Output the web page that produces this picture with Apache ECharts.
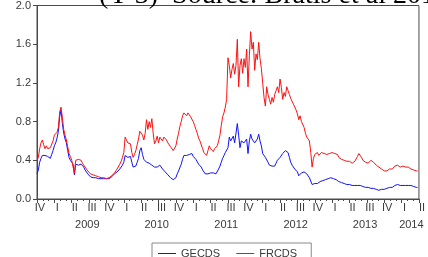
<!DOCTYPE html>
<html>
<head>
<meta charset="UTF-8">
<title>GECDS / FRCDS</title>
<script src="https://cdn.jsdelivr.net/npm/echarts@6/dist/echarts.min.js"></script>
<style>
  html, body { margin: 0; padding: 0; background: #fff; }
  #chart { width: 428px; height: 257px; }
</style>
</head>
<body>
<div id="chart"></div>
<script>
// weekly observations, first one at start of 2008 Q4
const startYear = 2008.75;
const weeksPerYear = 52;

const quarterNames = ['I', 'II', 'III', 'IV'];
const yearNames = ['2009', '2010', '2011', '2012', '2013', '2014'];

const gecds = [
  0.26, 0.30, 0.38, 0.42, 0.45, 0.47, 0.45, 0.46, 0.44, 0.43,
  0.42, 0.46, 0.50, 0.55, 0.58, 0.63, 0.70, 0.85, 0.92, 0.78,
  0.68, 0.62, 0.58, 0.50, 0.43, 0.40, 0.38, 0.36, 0.25, 0.36,
  0.37, 0.35, 0.35, 0.36, 0.34, 0.33, 0.30, 0.28, 0.26, 0.24,
  0.23, 0.23, 0.22, 0.22, 0.22, 0.21, 0.21, 0.21, 0.21, 0.21,
  0.21, 0.20, 0.21, 0.21, 0.21, 0.22, 0.23, 0.25, 0.26, 0.27,
  0.28, 0.29, 0.31, 0.33, 0.35, 0.38, 0.45, 0.44, 0.43, 0.45,
  0.44, 0.38, 0.33, 0.34, 0.34, 0.38, 0.42, 0.50, 0.53, 0.46,
  0.41, 0.40, 0.38, 0.40, 0.37, 0.36, 0.35, 0.34, 0.33, 0.31,
  0.33, 0.34, 0.35, 0.33, 0.31, 0.29, 0.28, 0.26, 0.25, 0.24,
  0.22, 0.21, 0.20, 0.19, 0.22, 0.26, 0.29, 0.31, 0.36, 0.41,
  0.45, 0.46, 0.45, 0.47, 0.46, 0.47, 0.47, 0.44, 0.43, 0.41,
  0.39, 0.36, 0.34, 0.33, 0.30, 0.28, 0.26, 0.24, 0.26, 0.28,
  0.27, 0.26, 0.27, 0.26, 0.26, 0.28, 0.31, 0.34, 0.38, 0.42,
  0.45, 0.48, 0.50, 0.53, 0.64, 0.60, 0.62, 0.65, 0.58, 0.60,
  0.78, 0.66, 0.53, 0.60, 0.62, 0.58, 0.57, 0.62, 0.47, 0.60,
  0.67, 0.62, 0.64, 0.58, 0.60, 0.62, 0.67, 0.60, 0.55, 0.47,
  0.45, 0.43, 0.42, 0.38, 0.35, 0.33, 0.34, 0.32, 0.34, 0.37,
  0.40, 0.41, 0.43, 0.45, 0.47, 0.48, 0.50, 0.52, 0.48, 0.43,
  0.38, 0.35, 0.33, 0.31, 0.29, 0.28, 0.24, 0.26, 0.27, 0.27,
  0.28, 0.27, 0.26, 0.24, 0.22, 0.20, 0.15, 0.17, 0.16, 0.17,
  0.16, 0.17, 0.18, 0.19, 0.19, 0.19, 0.20, 0.21, 0.21, 0.22,
  0.22, 0.21, 0.21, 0.20, 0.20, 0.19, 0.18, 0.18, 0.17, 0.16,
  0.16, 0.16, 0.15, 0.15, 0.15, 0.15, 0.14, 0.14, 0.14, 0.14,
  0.14, 0.14, 0.14, 0.13, 0.13, 0.13, 0.12, 0.12, 0.12, 0.12,
  0.11, 0.11, 0.11, 0.10, 0.10, 0.10, 0.09, 0.09, 0.10, 0.10,
  0.10, 0.11, 0.11, 0.11, 0.12, 0.12, 0.12, 0.13, 0.14, 0.14,
  0.15, 0.15, 0.14, 0.14, 0.14, 0.15, 0.14, 0.14, 0.14, 0.14,
  0.14, 0.14, 0.13, 0.13, 0.12, 0.12
];

const frcds = [
  0.40, 0.43, 0.52, 0.58, 0.61, 0.56, 0.52, 0.55, 0.52, 0.50,
  0.53, 0.55, 0.60, 0.66, 0.68, 0.69, 0.74, 0.90, 0.95, 0.84,
  0.72, 0.66, 0.61, 0.54, 0.47, 0.44, 0.40, 0.38, 0.27, 0.40,
  0.42, 0.41, 0.39, 0.40, 0.37, 0.36, 0.33, 0.31, 0.29, 0.27,
  0.26, 0.25, 0.25, 0.24, 0.24, 0.23, 0.23, 0.22, 0.22, 0.23,
  0.22, 0.22, 0.21, 0.22, 0.22, 0.23, 0.24, 0.26, 0.27, 0.28,
  0.31, 0.33, 0.36, 0.39, 0.43, 0.48, 0.64, 0.61, 0.58, 0.60,
  0.57, 0.48, 0.43, 0.46, 0.50, 0.56, 0.62, 0.70, 0.71, 0.66,
  0.61, 0.68, 0.82, 0.72, 0.80, 0.74, 0.83, 0.68, 0.57, 0.60,
  0.65, 0.58, 0.64, 0.62, 0.60, 0.64, 0.62, 0.61, 0.58, 0.56,
  0.54, 0.52, 0.50, 0.52, 0.55, 0.62, 0.68, 0.75, 0.80, 0.86,
  0.89, 0.88, 0.86, 0.89, 0.87, 0.85, 0.87, 0.80, 0.76, 0.72,
  0.68, 0.63, 0.60, 0.58, 0.52, 0.48, 0.46, 0.45, 0.50, 0.55,
  0.52, 0.50, 0.49, 0.52, 0.50, 0.55, 0.60, 0.66, 0.76, 0.85,
  0.89, 0.95, 1.03, 1.46, 1.38, 1.25, 1.34, 1.40, 1.29, 1.38,
  1.65, 1.16, 1.38, 1.45, 1.30, 1.45, 1.36, 1.55, 1.16, 1.48,
  1.73, 1.55, 1.62, 1.33, 1.50, 1.44, 1.62, 1.45, 1.35, 1.20,
  1.05, 0.96, 1.16, 1.08, 1.03, 0.98, 1.05, 1.00, 1.08, 1.12,
  1.16, 1.10, 1.24, 1.15, 1.03, 1.10, 1.06, 1.16, 1.12, 1.08,
  1.04, 1.03, 0.98, 0.95, 0.92, 0.88, 0.82, 0.86, 0.80, 0.82,
  0.74, 0.68, 0.64, 0.62, 0.60, 0.48, 0.33, 0.42, 0.46, 0.47,
  0.48, 0.45, 0.47, 0.48, 0.46, 0.47, 0.45, 0.46, 0.48, 0.47,
  0.47, 0.48, 0.46, 0.47, 0.48, 0.46, 0.43, 0.42, 0.41, 0.40,
  0.40, 0.41, 0.39, 0.38, 0.39, 0.38, 0.37, 0.38, 0.39, 0.40,
  0.44, 0.47, 0.46, 0.43, 0.40, 0.38, 0.38, 0.39, 0.37, 0.38,
  0.40, 0.40, 0.38, 0.37, 0.35, 0.34, 0.33, 0.33, 0.31, 0.30,
  0.29, 0.28, 0.29, 0.30, 0.31, 0.30, 0.31, 0.32, 0.34, 0.33,
  0.35, 0.35, 0.33, 0.32, 0.34, 0.33, 0.33, 0.32, 0.33, 0.32,
  0.31, 0.31, 0.30, 0.30, 0.29, 0.29
];

function toPairs(vals) {
  return vals.map((v, i) => [startYear + i / weeksPerYear, v]);
}

const axisColor = '#4a4a4a';
const textColor = '#3a3a3a';
const font = 'Liberation Sans';

const chart = echarts.init(document.getElementById('chart'));
chart.setOption({
  animation: false,
  grid: {
    left: 37, right: 3, top: 5, bottom: 58,
    show: true, borderColor: axisColor, borderWidth: 1
  },
  graphic: [{
    type: 'text', left: 99, top: -18, silent: true,
    style: {
      text: '(Y-3)  Source: Bratis et al 2015',
      font: '28px "Liberation Serif"', fill: '#000'
    }
  }],
  legend: {
    left: 152, top: 243,
    padding: [5, 8, 12, 6],
    borderColor: '#8a8a8a', borderWidth: 1,
    icon: 'rect', itemWidth: 18, itemHeight: 1, itemGap: 10,
    textStyle: { fontFamily: font, fontSize: 11, color: textColor },
    data: ['GECDS_', 'FRCDS_']
  },
  xAxis: [{
    type: 'value',
    min: 2008.75, max: 2014.25, interval: 0.25,
    axisLine: { lineStyle: { color: axisColor } },
    axisTick: { inside: false, length: 4, lineStyle: { color: axisColor } },
    minorTick: { show: true, splitNumber: 3, length: 2, lineStyle: { color: axisColor } },
    splitLine: { show: false },
    axisLabel: {
      margin: 3, padding: [0, 0, 0, 6],
      fontFamily: font, fontSize: 11, color: textColor,
      showMinLabel: true, showMaxLabel: true,
      formatter: v => quarterNames[Math.round((v - Math.floor(v + 1e-6)) * 4) % 4]
    }
  }, {
    // year row: units of a third of a year from the left edge
    type: 'value',
    position: 'bottom', offset: 17,
    min: 0, max: 16.5, interval: 1,
    axisLine: { show: false }, axisTick: { show: false }, splitLine: { show: false },
    axisLabel: {
      margin: 3, padding: [0, 0, 0, 8],
      fontFamily: font, fontSize: 11, color: textColor,
      showMinLabel: false, showMaxLabel: false,
      formatter: v => {
        const k = Math.round(v);
        if (k === 16) return yearNames[5];
        if (k >= 2 && (k - 2) % 3 === 0) return yearNames[(k - 2) / 3] || '';
        return '';
      }
    }
  }],
  yAxis: {
    type: 'value',
    min: 0, max: 2, interval: 0.4,
    axisLine: { show: true, lineStyle: { color: axisColor } },
    axisTick: { show: true, length: 4, lineStyle: { color: axisColor } },
    splitLine: { show: false },
    axisLabel: {
      margin: 6, fontFamily: font, fontSize: 11, color: textColor,
      formatter: v => v.toFixed(1)
    }
  },
  series: [{
    name: 'GECDS_', type: 'line', xAxisIndex: 0,
    symbol: 'none', data: toPairs(gecds),
    lineStyle: { color: '#1010ff', width: 1 }, itemStyle: { color: '#1010ff' }
  }, {
    name: 'FRCDS_', type: 'line', xAxisIndex: 0,
    symbol: 'none', data: toPairs(frcds),
    lineStyle: { color: '#ff1010', width: 1 }, itemStyle: { color: '#ff1010' }
  }]
});
</script>
</body>
</html>
